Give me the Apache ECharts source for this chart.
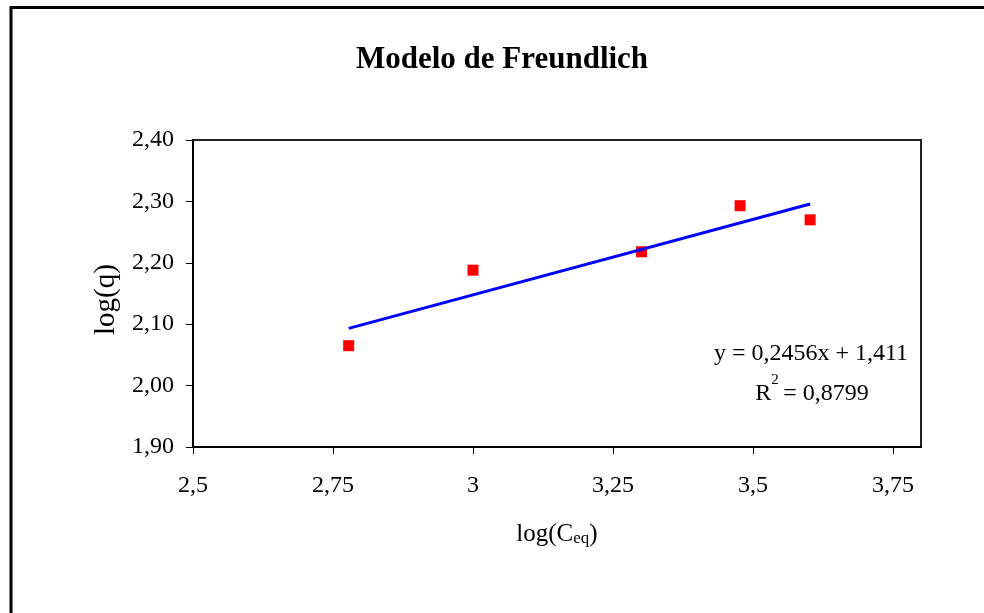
<!DOCTYPE html>
<html>
<head>
<meta charset="utf-8">
<script src="https://cdn.jsdelivr.net/npm/echarts@6/dist/echarts.min.js"></script>
<style>
  html, body { margin: 0; padding: 0; background: #fff; }
  #chart { width: 984px; height: 613px; }
</style>
</head>
<body>
<div id="chart"></div>
<script>
// Freundlich isotherm, linearised: log(q) against log(Ceq)
const logCeq = [2.778, 3.0, 3.301, 3.477, 3.602];
const logQ = [2.065, 2.188, 2.218, 2.293, 2.270];

// Least-squares trendline as reported on the chart
const slope = 0.2456;
const intercept = 1.411;
const eqLine = 'y = 0,2456x + 1,411';
const r2Value = '0,8799';

// Axis ticks
const xTicks = [2.5, 2.75, 3, 3.25, 3.5, 3.75];
const yTicks = [1.9, 2.0, 2.1, 2.2, 2.3, 2.4];

const FONT = '"Liberation Serif", "Times New Roman", serif';
const comma = (s) => String(s).replace('.', ',');

const points = logCeq.map((x, i) => [x, logQ[i]]);
const xFirst = logCeq[0];
const xLast = logCeq[logCeq.length - 1];
const trend = [
  [xFirst, slope * xFirst + intercept],
  [xLast, slope * xLast + intercept]
];

const chart = echarts.init(document.getElementById('chart'), null, { renderer: 'canvas' });

chart.setOption({
  backgroundColor: '#fff',
  animation: false,
  title: {
    text: 'Modelo de Freundlich',
    left: 497, top: 39, textAlign: 'center',
    textStyle: { fontFamily: FONT, fontWeight: 'bold', fontSize: 31, color: '#000' }
  },
  grid: {
    left: 193, top: 140, width: 728, height: 307,
    show: true, borderColor: '#222', borderWidth: 2, backgroundColor: '#fff'
  },
  xAxis: {
    type: 'value',
    min: 2.5, max: 3.8, interval: 0.25,
    name: '{a|log(C}{b|eq}{a|)}',
    nameLocation: 'middle',
    nameGap: 72,
    nameTextStyle: {
      rich: {
        a: { fontFamily: FONT, fontSize: 25, color: '#000', verticalAlign: 'bottom', lineHeight: 28 },
        b: { fontFamily: FONT, fontSize: 17, color: '#000', verticalAlign: 'bottom', lineHeight: 22 }
      }
    },
    axisLine: { show: true, onZero: false, lineStyle: { color: '#000', width: 2 } },
    axisTick: { show: true, length: 7, customValues: xTicks, lineStyle: { color: '#000', width: 1 } },
    axisLabel: {
      customValues: xTicks,
      margin: 27,
      fontFamily: FONT, fontSize: 24, color: '#000',
      formatter: (v) => comma(v)
    },
    splitLine: { show: false }
  },
  yAxis: {
    type: 'value',
    min: 1.9, max: 2.4, interval: 0.1,
    name: 'log(q)',
    nameLocation: 'middle',
    nameGap: 69,
    nameTextStyle: { fontFamily: FONT, fontSize: 29, color: '#000', padding: [0, 12, 0, 0] },
    axisLine: { show: true, onZero: false, lineStyle: { color: '#000', width: 2 } },
    axisTick: { show: true, length: 7, customValues: yTicks, lineStyle: { color: '#000', width: 1 } },
    axisLabel: {
      customValues: yTicks,
      margin: 19,
      fontFamily: FONT, fontSize: 24, color: '#000',
      formatter: (v) => comma(v.toFixed(2))
    },
    splitLine: { show: false }
  },
  graphic: [
    {
      type: 'rect', silent: true, z: 100,
      shape: { x: 11, y: 7.5, width: 1100, height: 800 },
      style: { fill: null, stroke: '#000', lineWidth: 3 }
    },
    {
      type: 'text', z: 100,
      x: 811, y: 354,
      style: {
        text: eqLine, fontFamily: FONT, fontSize: 24, fill: '#000',
        textAlign: 'center', textVerticalAlign: 'middle'
      }
    },
    {
      // R² line: the exponent sits in a small gap after the R
      type: 'text', z: 100,
      x: 812, y: 394,
      style: {
        text: '{m|R}{gap|}{m|= ' + r2Value + '}',
        textAlign: 'center', textVerticalAlign: 'middle',
        rich: {
          m: { fontFamily: FONT, fontSize: 24, fill: '#000' },
          gap: { width: 12, height: 1 }
        }
      }
    },
    {
      type: 'text', z: 100,
      x: 775, y: 380,
      style: {
        text: '2', fontFamily: FONT, fontSize: 15, fill: '#000',
        textAlign: 'center', textVerticalAlign: 'middle'
      }
    }
  ],
  series: [
    {
      type: 'scatter',
      data: points,
      symbol: 'rect',
      symbolSize: 11,
      itemStyle: { color: '#ff0000', opacity: 1 },
      z: 2
    },
    {
      type: 'line',
      data: trend,
      showSymbol: false,
      symbol: 'none',
      lineStyle: { color: '#0000ff', width: 3 },
      z: 3
    }
  ]
});
</script>
</body>
</html>
